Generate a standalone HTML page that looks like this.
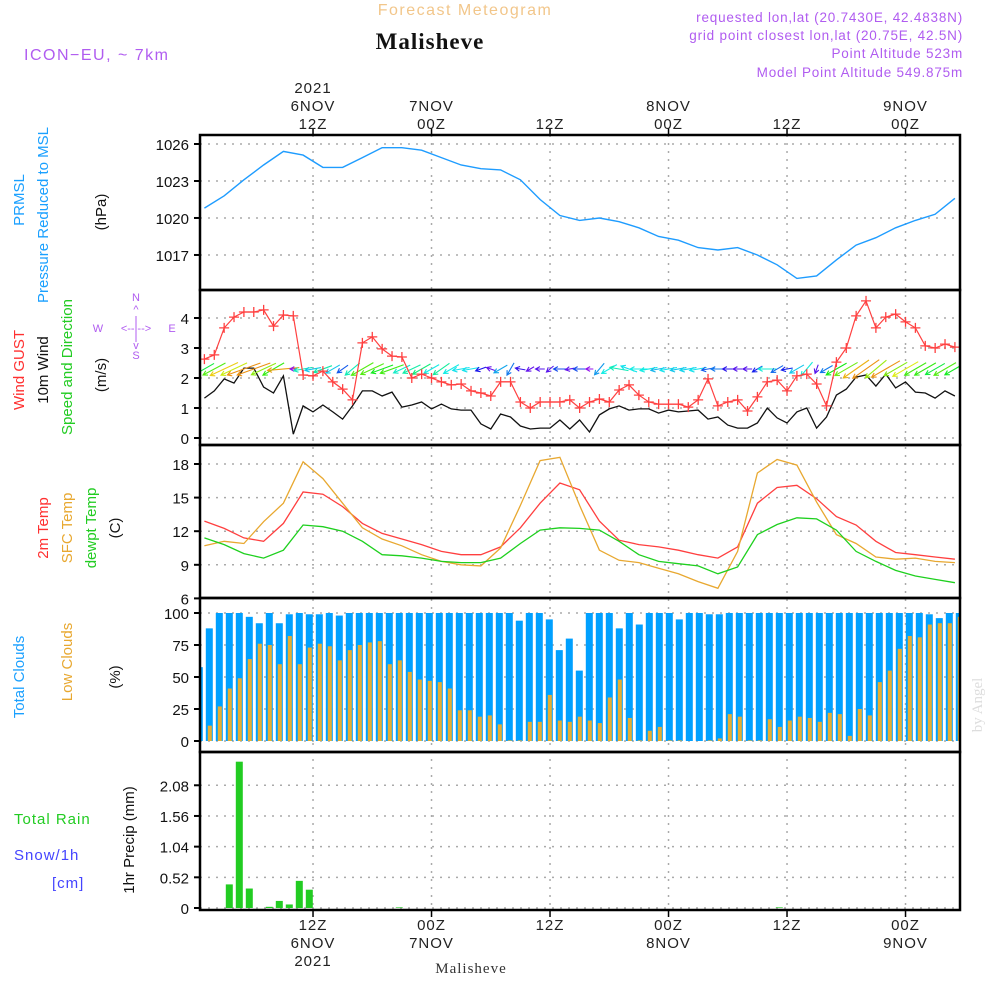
<!DOCTYPE html>
<html><head><meta charset="utf-8">
<style>
html,body{margin:0;padding:0;background:#fff;}
svg{display:block;font-family:"Liberation Sans",sans-serif;}
</style></head>
<body>
<svg id="chart" width="1000" height="1000" viewBox="0 0 1000 1000">
<defs>
<clipPath id="clipP"><rect x="200" y="135" width="760" height="775"/></clipPath>
</defs>
<text x="465" y="15" text-anchor="middle" font-size="16" fill="#f2c68a" letter-spacing="1.5">Forecast Meteogram</text>
<text x="430" y="49" text-anchor="middle" font-size="23" font-weight="bold" font-family="Liberation Serif, serif" fill="#111" letter-spacing="1">Malisheve</text>
<text x="24" y="60" font-size="16" fill="#b05cf0" letter-spacing="1.5">ICON−EU, ~ 7km</text>
<g font-size="13.5" fill="#b05cf0" text-anchor="end" letter-spacing="0.8">
<text x="963" y="22">requested lon,lat (20.7430E, 42.4838N)</text>
<text x="963" y="40">grid point closest lon,lat (20.75E, 42.5N)</text>
<text x="963" y="58">Point Altitude 523m</text>
<text x="963" y="77">Model Point Altitude 549.875m</text>
</g>
<g id="axes"></g>
<g id="marks" clip-path="url(#clipP)"></g>
<g id="frames"></g>
<g id="labels" font-size="15"></g>
<text x="471" y="973" text-anchor="middle" font-size="15" font-family="Liberation Serif, serif" fill="#333" letter-spacing="1">Malisheve</text>
<text transform="translate(982,705) rotate(-90)" text-anchor="middle" font-size="15" font-family="Liberation Serif, serif" fill="#ddd">by Angel</text>
</svg>
<script>
// ---- data ----
const oddHours = [1,3,5,7,9,11,13,15,17,19,21,23,25,27,29,31,33,35,37,39,41,43,45,47,49,51,53,55,57,59,61,63,65,67,69,71,73,75,77];
const pressure = [1020.8,1021.8,1023.1,1024.3,1025.4,1025.1,1024.1,1024.1,1024.9,1025.7,1025.7,1025.5,1024.9,1024.3,1024.0,1023.9,1023.1,1021.5,1020.2,1019.8,1020.0,1019.7,1019.2,1018.5,1018.2,1017.6,1017.4,1017.6,1017.0,1016.2,1015.1,1015.3,1016.6,1017.8,1018.4,1019.2,1019.8,1020.3,1021.6];
const gust = [2.63,2.77,3.67,4.03,4.2,4.2,4.27,3.73,4.1,4.07,2.1,2.07,2.23,1.87,1.63,1.27,3.17,3.37,2.97,2.73,2.7,2.0,2.13,2.0,1.87,1.77,1.8,1.57,1.5,1.4,1.87,1.87,1.2,1.0,1.2,1.2,1.2,1.27,1.0,1.2,1.3,1.2,1.6,1.77,1.43,1.2,1.13,1.13,1.13,1.03,1.27,1.97,1.07,1.2,1.27,0.9,1.37,1.87,1.93,1.57,2.07,2.13,1.8,1.07,2.53,3.0,4.07,4.57,3.67,4.03,4.13,3.87,3.67,3.07,3.0,3.13,3.03];
const wind10 = [1.33,1.57,1.97,1.83,2.33,2.33,1.7,1.5,2.07,0.13,1.07,0.87,1.1,0.87,0.63,1.07,1.57,1.57,1.4,1.53,1.03,1.1,1.2,0.97,1.13,0.97,0.93,0.93,0.47,0.3,0.8,0.7,0.4,0.3,0.33,0.33,0.6,0.3,0.6,0.2,0.77,0.97,1.07,0.93,0.97,0.97,0.83,0.93,0.87,0.9,0.93,0.63,0.7,0.43,0.33,0.33,0.5,1.0,0.67,0.5,0.87,1.0,0.33,0.7,1.43,1.63,2.03,2.1,1.73,2.13,1.67,1.87,1.53,1.5,1.33,1.57,1.4];
const windDir = [60,62,65,65,70,70,65,60,85,90,80,80,70,60,55,50,60,65,70,70,65,65,60,60,55,60,80,80,70,110,60,30,100,60,90,50,90,80,90,90,40,60,100,110,90,80,80,80,80,80,80,80,90,90,90,90,60,90,60,80,60,40,20,60,60,60,55,55,50,60,60,60,60,60,60,60,60];
const temp2m = [12.9,12.25,11.4,11.1,12.7,15.5,15.3,14.2,12.7,11.8,11.3,10.8,10.2,9.9,9.9,10.6,12.3,14.5,16.3,15.7,12.9,11.2,10.8,10.6,10.3,9.9,9.6,10.6,14.5,15.9,16.1,14.9,13.3,12.55,11.1,10.1,9.9,9.7,9.5];
const tempSfc = [10.7,11.1,10.9,12.85,14.5,18.2,16.7,14.5,12.3,11.3,10.7,9.9,9.3,9.0,8.9,10.5,14.3,18.3,18.6,14.3,10.3,9.4,9.2,8.7,8.2,7.5,6.9,10.2,17.2,18.4,17.9,14.6,11.7,10.9,9.7,9.5,9.6,9.3,9.2];
const tempDew = [11.4,10.8,10.0,9.6,10.3,12.55,12.4,12.0,11.1,9.9,9.8,9.6,9.3,9.2,9.2,9.6,10.9,12.1,12.3,12.25,12.1,11.1,9.9,9.3,9.1,8.9,8.2,8.8,11.7,12.6,13.2,13.1,12.1,10.2,9.3,8.5,8.0,7.7,7.4];
const totalClouds = [57.7,88,100,100,100,97,92,100,92,99,100,99,99,100,98,100,100,100,100,100,100,100,100,100,100,100,100,100,100,100,100,100,94,100,100,95,71,80,55,100,100,100,88,100,91,100,100,100,95,100,100,99,99,100,100,100,100,100,100,100,100,100,100,100,100,100,100,100,100,100,100,100,100,99,96,100,100];
const lowClouds = [0,12,27,41,49,64,76,75,60,82,60,73,76,74,63,71,75,77,78,60,63,54,48,47,46,41,24,24,19,20,13,0.5,0.5,15,15,36,16,15,19,16,14,34,48,18,0.5,8,11,0.5,0.5,0,0,0.5,2,21,19,0.5,0.5,17,11,16,19,18,15,22,21,4,25,20,46,55,72,82,81,91,92,92,97];
const precip = [0,0,0,0.40,2.48,0.33,0,0.02,0.12,0.06,0.46,0.31,0,0,0,0,0,0,0,0,0.01,0,0,0,0,0,0,0,0,0,0,0,0,0,0,0,0,0,0,0,0,0,0,0,0,0,0,0,0,0,0,0,0,0,0,0,0,0,0.01,0,0,0,0,0,0,0,0,0,0,0,0,0,0,0,0,0,0];
const pressTicks = [1026,1023,1020,1017];
const windTicks = [0,1,2,3,4];
const tempTicks = [18,15,12,9,6];
const cloudTicks = [100,75,50,25,0];
const precipTicks = ["2.08","1.56","1.04","0.52","0"];
const timeTickHours = [12,24,36,48,60,72];
const topTimeLabels = [["2021","6NOV","12Z"],["","7NOV","00Z"],["","","12Z"],["","8NOV","00Z"],["","","12Z"],["","9NOV","00Z"]];
const bottomTimeLabels = [["12Z","6NOV","2021"],["00Z","7NOV",""],["12Z","",""],["00Z","8NOV",""],["12Z","",""],["00Z","9NOV",""]];

// ---- scales ----
const X0=200, X1=960;
function xT(h){return 204.4+(h-1)*9.875;}
function xB(k){return 199.3+10*k;}
function yP(v){return 144+(1026-v)*12.33;}
function yW(v){return 438-v*30;}
function yT(v){return 464+(18-v)*11.2;}
function yC(v){return 741-v*1.28;}
function yR(v){return 908-v*59.0;}
const panels=[[135,290],[290,445],[445,598],[598,752],[752,910]];

const NS="http://www.w3.org/2000/svg";
function mk(parent,tag,attrs,txt){const e=document.createElementNS(NS,tag);for(const k in attrs)e.setAttribute(k,attrs[k]);if(txt!==undefined)e.textContent=txt;parent.appendChild(e);return e;}
const axes=document.getElementById('axes'), marks=document.getElementById('marks'), frames=document.getElementById('frames'), labels=document.getElementById('labels');

timeTickHours.forEach((h,i)=>{
  const g=mk(axes,'line',{x1:xT(h),x2:xT(h),y1:135,y2:910,stroke:'#aaa','stroke-width':1.5,'stroke-dasharray':'2,6'});
  
  
  const t1=mk(frames,'line',{x1:xT(h),x2:xT(h),y1:128,y2:135,stroke:'#000','stroke-width':1.5});
  
  
  const t2=mk(frames,'line',{x1:xT(h),x2:xT(h),y1:910,y2:917,stroke:'#000','stroke-width':1.5});
  
  
  topTimeLabels[i].forEach((s,j)=>{ if(!s) return;
    const t=mk(labels,'text',{x:xT(h),y:93+j*18,'text-anchor':'middle',fill:'#222','letter-spacing':'1'},s);
    
    
  });
  bottomTimeLabels[i].forEach((s,j)=>{ if(!s) return;
    const t=mk(labels,'text',{x:xT(h),y:930+j*18,'text-anchor':'middle',fill:'#222','letter-spacing':'1'},s);
    
    
  });
});

function yTicks(vals,fn){
  vals.forEach(v=>{
    const y=fn(parseFloat(v));
    const gl=mk(axes,'line',{x1:X0,x2:X1,y1:y,y2:y,stroke:'#aaa','stroke-width':1.5,'stroke-dasharray':'2,6'});
    
    
    const tk=mk(frames,'line',{x1:X0-6,x2:X0,y1:y,y2:y,stroke:'#000','stroke-width':2});
    
    
    const tl=mk(labels,'text',{x:189,y:y+6,'text-anchor':'end',fill:'#111','font-size':'15'},String(v));
    
    
  });
}
yTicks(pressTicks,yP);
yTicks(windTicks,yW);
yTicks(tempTicks,yT);
yTicks(cloudTicks,yC);
yTicks(precipTicks,yR);

totalClouds.forEach((v,k)=>{
  const r=mk(marks,'rect',{x:xB(k)-3.5,y:yC(v),width:7,height:yC(0)-yC(v),fill:'#00a0ff'});
  
  
});
lowClouds.forEach((v,k)=>{
  if(v<=0) return;
  const r=mk(marks,'rect',{x:xB(k)-1.5,y:yC(v),width:4,height:yC(0)-yC(v),fill:'#e8ae30'});
  
  
});
precip.forEach((v,k)=>{
  if(v<=0) return;
  const r=mk(marks,'rect',{x:xB(k)-3.5,y:yR(v),width:7,height:yR(0)-yR(v),fill:'#22cc22'});
  
  
});

function poly(xs,ys,color,name,w){
  const pts=xs.map((x,i)=>x.toFixed(1)+','+ys[i].toFixed(1)).join(' ');
  const p=mk(marks,'polyline',{points:pts,fill:'none',stroke:color,'stroke-width':w||1.3});
  
  
}
poly(oddHours.map(xT),pressure.map(yP),'#1e9cff','pressure-line',1.4);
poly(oddHours.map(xT),temp2m.map(yT),'#ff3f3f','temp-2m-line');
poly(oddHours.map(xT),tempSfc.map(yT),'#e8a830','temp-sfc-line');
poly(oddHours.map(xT),tempDew.map(yT),'#1ed01e','dewpoint-line');
const hrs=gust.map((v,i)=>i+1);
poly(hrs.map(xT),wind10.map(yW),'#111','wind-10m-line',1.3);

wind10.forEach((s,i)=>{
  const cx=xT(i+1), cy=369;
  const L=5+13*s, a=windDir[i]*Math.PI/180;
  const dx=-Math.sin(a)*L, dy=Math.cos(a)*L;
  const x1=cx-dx/2,y1=cy-dy/2,x2=cx+dx/2,y2=cy+dy/2;
  const hue=Math.max(35,Math.min(275,275-(s-0.2)/1.9*240));
  const col='hsl('+hue+',85%,50%)';
  const ang=Math.atan2(y2-y1,x2-x1), hl=5;
  const d='M'+x1+','+y1+'L'+x2+','+y2+'M'+(x2-hl*Math.cos(ang-0.5))+','+(y2-hl*Math.sin(ang-0.5))+'L'+x2+','+y2+'L'+(x2-hl*Math.cos(ang+0.5))+','+(y2-hl*Math.sin(ang+0.5));
  const p=mk(marks,'path',{d:d,fill:'none',stroke:col,'stroke-width':1.1});
  
  
});

poly(hrs.map(xT),gust.map(yW),'#ff4040','wind-gust-line',1.2);
gust.forEach((v,i)=>{
  const x=xT(i+1),y=yW(v);
  const p=mk(marks,'path',{d:'M'+(x-5)+','+y+'h10M'+x+','+(y-5)+'v10',stroke:'#ff4040','stroke-width':1.3});
  
  
});

panels.forEach(([a,b])=>{
  const r=mk(frames,'rect',{x:X0,y:a,width:X1-X0,height:b-a,fill:'none',stroke:'#000','stroke-width':2.5});
  
  
});

function vlab(x,y,txt,col,name,fs){
  const t=mk(labels,'text',{transform:'translate('+x+','+y+') rotate(-90)','text-anchor':'middle',fill:col,'font-size':fs||15},txt);
  
  
}
vlab(24,200,'PRMSL','#1aa0ff','prmsl-label');
vlab(48,215,'Pressure Reduced to MSL','#1aa0ff','pressure-label');
vlab(106,212,'(hPa)','#111','pressure-unit');
vlab(24,370,'Wind GUST','#ff3030','gust-label');
vlab(48,370,'10m Wind','#111','wind-label');
vlab(72,367,'Speed and Direction','#22cc22','direction-label');
vlab(106,375,'(m/s)','#111','wind-unit');
vlab(48,528,'2m Temp','#ff3030','temp2m-label');
vlab(72,528,'SFC Temp','#e8a830','sfc-temp-label');
vlab(96,528,'dewpt Temp','#22cc22','dewpt-label');
vlab(120,528,'(C)','#111','temp-unit');
vlab(24,677,'Total Clouds','#1aa0ff','total-clouds-label');
vlab(72,662,'Low Clouds','#e8a830','low-clouds-label');
vlab(120,677,'(%)','#111','cloud-unit');
vlab(134,840,'1hr Precip (mm)','#111','precip-unit');
[['Total  Rain',14,824,'#22cc22','rain-label'],['Snow/1h',14,860,'#4444ff','snow-label'],['[cm]',52,888,'#4444ff','snow-unit']].forEach(a=>{
  const t=mk(labels,'text',{x:a[1],y:a[2],fill:a[3],'xml:space':'preserve','letter-spacing':'1'},a[0]);
  
  
});
[['N',136,301],['W',98,332],['<--|-->',136,332],['S',136,359],['^',136,313],['v',136,349]].forEach(a=>{
  const t=mk(labels,'text',{x:a[1],y:a[2],fill:'#b05cf0','font-size':'11','text-anchor':'middle'},a[0]);
  
  
});
const ce=mk(labels,'text',{x:172,y:332,fill:'#b05cf0','font-size':'11','text-anchor':'middle'},'E');


const cl=mk(labels,'line',{x1:136,x2:136,y1:316,y2:342,stroke:'#b05cf0','stroke-width':1});


</script>
</body></html>
